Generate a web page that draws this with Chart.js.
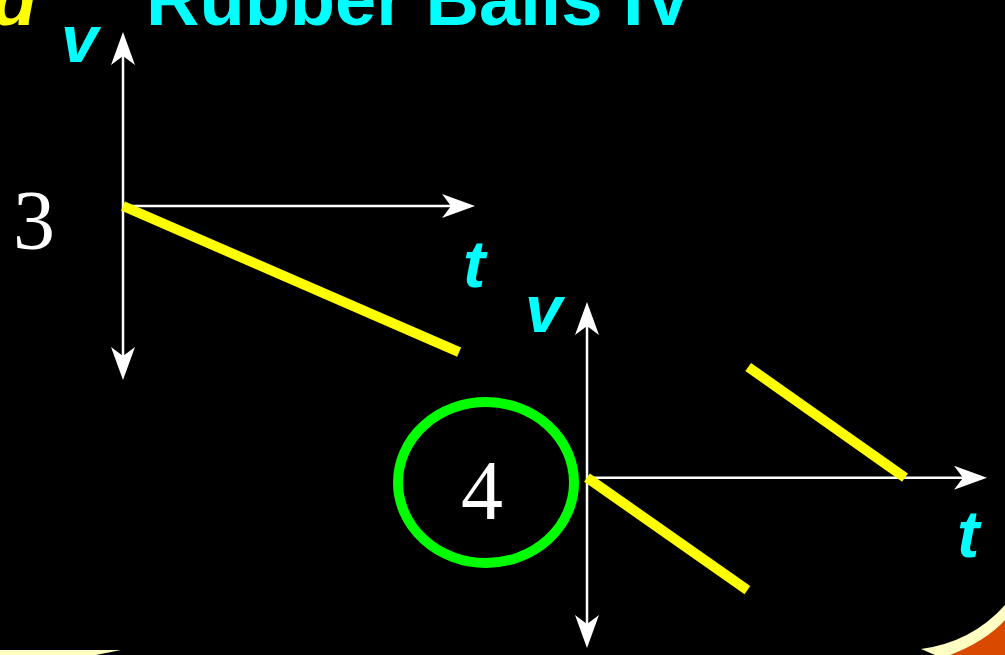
<!DOCTYPE html>
<html>
<head>
<meta charset="utf-8">
<script src="https://cdn.jsdelivr.net/npm/chart.js@4"></script>
<style>
  html, body { margin: 0; padding: 0; background: #000; width: 1005px; height: 655px; overflow: hidden; }
  #bg { position: absolute; left: 0; top: 0; }
  canvas { position: absolute; }
  #graph3 { left: 103px; top: 18px; }
  #graph4 { left: 567px; top: 288px; }
</style>
</head>
<body>
<svg id="bg" width="1005" height="655">
  <!-- slide decorations -->
  <path d="M0 650 L100 650 Q112 650 121 650 L96 655 L0 655 Z" fill="#ffffc4"/>
  <path d="M921 649 Q972 642 1005 605 L1005 655 L935 655 Z" fill="#ffffc4"/>
  <path d="M950 655 Q986 641 1005 620 L1005 655 Z" fill="#d94a00"/>
  <ellipse cx="486" cy="482.5" rx="88" ry="80.5" fill="none" stroke="#00ff00" stroke-width="10"/>

  <text x="37" y="25" text-anchor="end" font-family="Liberation Sans" font-weight="bold" font-style="italic" font-size="74" fill="#ffff00">d</text>
  <text x="146" y="25" font-family="Liberation Sans" font-weight="bold" font-size="74" fill="#00ffff">Rubber Balls IV</text>

  <text x="61" y="62" font-family="Liberation Sans" font-weight="bold" font-style="italic" font-size="67" fill="#00ffff">v</text>
  <text x="463" y="287" font-family="Liberation Sans" font-weight="bold" font-style="italic" font-size="67" fill="#00ffff">t</text>
  <text x="525" y="332" font-family="Liberation Sans" font-weight="bold" font-style="italic" font-size="67" fill="#00ffff">v</text>
  <text x="957" y="557" font-family="Liberation Sans" font-weight="bold" font-style="italic" font-size="67" fill="#00ffff">t</text>

  <text x="34" y="249" text-anchor="middle" font-family="Liberation Serif" font-size="84" fill="#ffffff">3</text>
  <text x="482" y="519" text-anchor="middle" font-family="Liberation Serif" font-size="84" fill="#ffffff">4</text>
</svg>
<canvas id="graph3" width="392" height="376"></canvas>
<canvas id="graph4" width="440" height="374"></canvas>
<script>
// time axis runs 0..10 on both graphs
const tRange = [0, 10];
const vRange3 = [-1, 1];
const vRange4 = [-0.97, 1];

// graph 3: one straight falling segment
const graph3T = [0, 9.55];
const graph3V = [0, -0.84];

// graph 4: falls, then jumps up and falls back to zero
const graph4aT = [0, 4.01];
const graph4aV = [0, -0.64];
const graph4bT = [4.03, 7.95];
const graph4bV = [0.63, 0];

const toPoints = (ts, vs) => ts.map((t, i) => ({x: t, y: vs[i]}))

const arrowHead = (c, tipX, tipY, dx, dy) => {
    const len = 33, notch = 24, half = 12
    const nx = -dy, ny = dx
    c.beginPath()
    c.moveTo(tipX, tipY)
    c.lineTo(tipX - dx * len + nx * half, tipY - dy * len + ny * half)
    c.lineTo(tipX - dx * notch, tipY - dy * notch)
    c.lineTo(tipX - dx * len - nx * half, tipY - dy * len - ny * half)
    c.closePath()
    c.fill()
}

// white axes with arrowheads, crossing at t=0, v=0
const arrowAxes = {
    id: 'arrowAxes',
    beforeDatasetsDraw(chart) {
        const c = chart.ctx
        const a = chart.chartArea
        const x0 = chart.scales.x.getPixelForValue(0)
        const y0 = chart.scales.y.getPixelForValue(0)
        c.save()
        c.strokeStyle = '#ffffff'
        c.fillStyle = '#ffffff'
        c.lineWidth = 2.5
        c.beginPath()
        c.moveTo(x0, a.top + 20)
        c.lineTo(x0, a.bottom - 20)
        c.moveTo(x0, y0)
        c.lineTo(a.right - 20, y0)
        c.stroke()
        arrowHead(c, x0, a.top, 0, -1)
        arrowHead(c, x0, a.bottom, 0, 1)
        arrowHead(c, a.right, y0, 1, 0)
        c.restore()
    }
}

const lineStyle = {
    showLine: true,
    borderColor: '#ffff00',
    borderWidth: 10,
    borderCapStyle: 'butt',
    pointRadius: 0,
    clip: false
}

const makeOptions = (vRange) => ({
    responsive: false,
    animation: false,
    layout: { padding: { left: 20, right: 20, top: 14, bottom: 14 } },
    plugins: { legend: { display: false }, tooltip: { enabled: false } },
    scales: {
        x: { type: 'linear', min: tRange[0], max: tRange[1], display: false },
        y: { type: 'linear', min: vRange[0], max: vRange[1], display: false }
    }
})

new Chart(document.getElementById('graph3'), {
    type: 'scatter',
    data: {
        datasets: [{ ...lineStyle, data: toPoints(graph3T, graph3V) }]
    },
    options: makeOptions(vRange3),
    plugins: [arrowAxes]
});

new Chart(document.getElementById('graph4'), {
    type: 'scatter',
    data: {
        datasets: [
            { ...lineStyle, data: toPoints(graph4aT, graph4aV) },
            { ...lineStyle, data: toPoints(graph4bT, graph4bV) }
        ]
    },
    options: makeOptions(vRange4),
    plugins: [arrowAxes]
});
</script>
</body>
</html>
